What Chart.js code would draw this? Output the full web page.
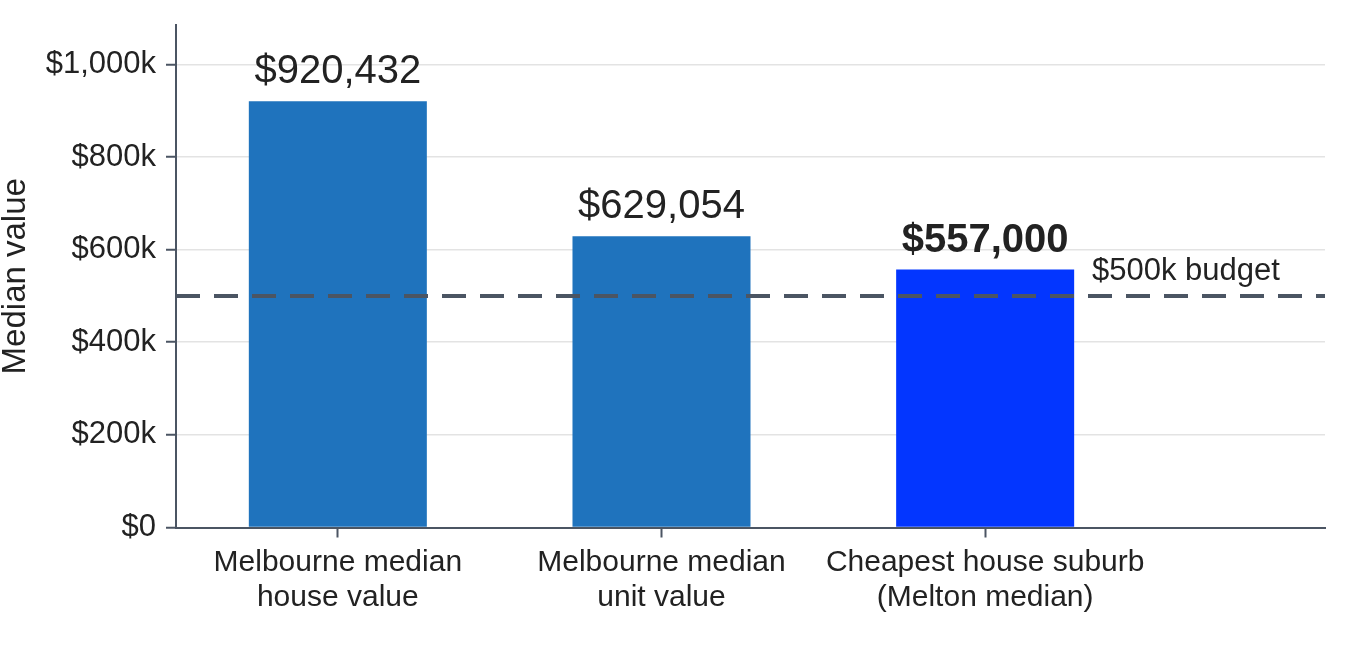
<!DOCTYPE html>
<html>
<head>
<meta charset="utf-8">
<script src="https://cdn.jsdelivr.net/npm/chart.js@4.4.1/dist/chart.umd.min.js"></script>
<style>
    body { margin: 0; background: #fff; }
    #wrap { width: 1352px; height: 660px; position: relative; }
</style>
</head>
<body>
<div id="wrap"><canvas id="medianChart"></canvas></div>
<script>
'use strict'

const categories = [
    ['Melbourne median', 'house value'],
    ['Melbourne median', 'unit value'],
    ['Cheapest house suburb', '(Melton median)']
];
const medianValues = [920432, 629054, 557000];
const barColors = ['#1f73bd', '#1f73bd', '#0336ff'];
const budget = 500000;
const budgetLabel = '$500k budget';
const yTicks = [0, 200000, 400000, 600000, 800000, 1000000];

const FONT = '"Liberation Sans", Arial, sans-serif';
const TEXT = '#222222';
const AXIS = '#4b5563';

function money(v) {
    return '$' + v.toLocaleString('en-US');
}

// value labels above the bars + budget note
const labelPlugin = {
    id: 'barLabels',
    afterDatasetsDraw(chart) {
        const ctx = chart.ctx;
        const x = chart.scales.x;
        const y = chart.scales.y;
        ctx.save();
        ctx.fillStyle = TEXT;
        ctx.textAlign = 'center';
        ctx.textBaseline = 'alphabetic';
        medianValues.forEach((v, i) => {
            const bold = i === medianValues.length - 1;
            ctx.font = (bold ? 'bold ' : '') + '40px ' + FONT;
            ctx.fillText(money(v), x.getPixelForValue(i), y.getPixelForValue(v) - 18);
        });
        ctx.font = '31px ' + FONT;
        ctx.textAlign = 'left';
        ctx.fillText(budgetLabel, x.getPixelForValue(2.33), y.getPixelForValue(534000));
        ctx.restore();
    }
};

const ctx = document.getElementById('medianChart').getContext('2d');

new Chart(ctx, {
    type: 'bar',
    data: {
        datasets: [
            {
                type: 'line',
                data: [{x: -0.5, y: budget}, {x: 3.05, y: budget}],
                borderColor: AXIS,
                borderWidth: 4,
                borderDash: [24, 14],
                pointRadius: 0,
                order: 0
            },
            {
                type: 'bar',
                data: medianValues.map((v, i) => ({x: i, y: v})),
                backgroundColor: barColors,
                borderWidth: 0,
                categoryPercentage: 1,
                barPercentage: 0.55,
                order: 1
            }
        ]
    },
    options: {
        responsive: true,
        maintainAspectRatio: false,
        animation: false,
        devicePixelRatio: 1,
        layout: {
            padding: {top: 25, right: 27, left: 0, bottom: 0}
        },
        plugins: {
            legend: {display: false},
            tooltip: {enabled: false}
        },
        scales: {
            x: {
                type: 'linear',
                min: -0.5,
                max: 3.05,
                offset: false,
                afterBuildTicks(scale) {
                    scale.ticks = categories.map((c, i) => ({value: i}));
                },
                afterFit(scale) {
                    scale.height = 132.5;
                    scale.paddingLeft = 0;
                    scale.paddingRight = 0;
                },
                border: {color: AXIS, width: 2},
                grid: {
                    offset: false,
                    drawOnChartArea: false,
                    drawTicks: true,
                    tickLength: 10,
                    tickColor: AXIS,
                    tickWidth: 2
                },
                ticks: {
                    autoSkip: false,
                    maxRotation: 0,
                    padding: 8,
                    color: TEXT,
                    font: {family: FONT, size: 30, lineHeight: 1.17},
                    callback: (v) => categories[v]
                }
            },
            y: {
                min: 0,
                max: 1085000,
                afterBuildTicks(scale) {
                    scale.ticks = yTicks.map(v => ({value: v}));
                },
                afterFit(scale) {
                    scale.width = 176;
                    scale.paddingTop = 0;
                    scale.paddingBottom = 0;
                },
                border: {color: AXIS, width: 2},
                grid: {
                    color: '#e3e3e3',
                    lineWidth: 1.5,
                    drawTicks: true,
                    tickLength: 10,
                    tickColor: AXIS,
                    tickWidth: 2
                },
                ticks: {
                    padding: 10,
                    color: TEXT,
                    font: {family: FONT, size: 31},
                    callback: (v) => v === 0 ? '$0' : '$' + (v / 1000).toLocaleString('en-US') + 'k'
                },
                title: {
                    display: true,
                    text: 'Median value',
                    color: TEXT,
                    font: {family: FONT, size: 33, lineHeight: 0.96},
                    padding: {top: 0, bottom: 0}
                }
            }
        }
    },
    plugins: [labelPlugin]
});
</script>
</body>
</html>
